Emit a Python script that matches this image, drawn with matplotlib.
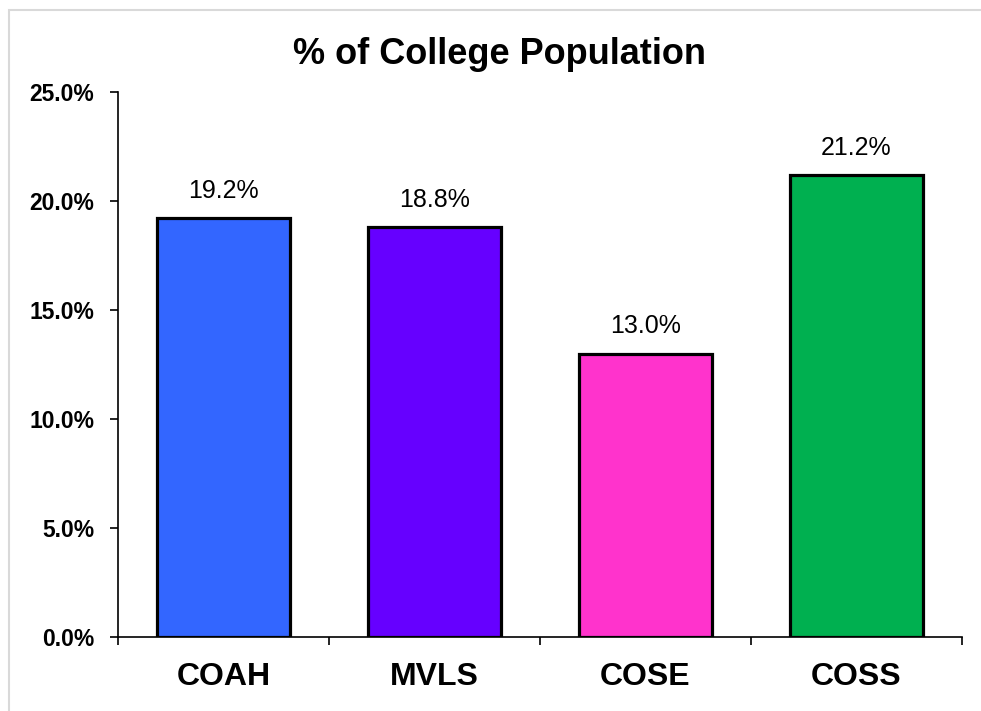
import matplotlib.pyplot as plt
from matplotlib.patches import Rectangle
from matplotlib.ticker import PercentFormatter, FixedLocator, NullFormatter

categories = ['COAH', 'MVLS', 'COSE', 'COSS']
values = [19.2, 18.8, 13.0, 21.2]
colors = ['#3366FF', '#6600FF', '#FF33CC', '#00B050']
yticks = [0, 5, 10, 15, 20, 25]

plt.rcParams['font.family'] = ['Liberation Sans', 'DejaVu Sans']

fig = plt.figure(figsize=(9.81, 7.11), dpi=100)
ax = fig.add_axes([118 / 981, 74 / 711, 844 / 981, 545 / 711])

# light gray chart-area border
fig.patches.append(Rectangle((9 / 981, -0.1), 1.0, (711 - 10) / 711 + 0.1,
                             transform=fig.transFigure, fill=False,
                             edgecolor='#d9d9d9', linewidth=1.5))

x = range(len(categories))
bars = ax.bar(x, values, width=0.63, color=colors, edgecolor='black',
              linewidth=2.3, zorder=3)

for b, v in zip(bars, values):
    ax.annotate(f'{v:.1f}%', (b.get_x() + b.get_width() / 2, v),
                xytext=(0, 11), textcoords='offset points',
                ha='center', va='bottom', fontsize=18)

ax.set_xlim(-0.5, len(categories) - 0.5)
ax.set_ylim(0, 25)
ax.set_yticks(yticks)
ax.yaxis.set_major_formatter(PercentFormatter(decimals=1))
for lbl in ax.get_yticklabels():
    lbl.set_fontweight('bold')
    lbl.set_fontsize(16.5)

ax.set_xticks(list(x))
ax.set_xticklabels(categories, fontsize=23, fontweight='bold')
ax.tick_params(axis='x', which='major', length=0, pad=18)
ax.xaxis.set_minor_locator(FixedLocator([i - 0.5 for i in range(len(categories) + 1)]))
ax.xaxis.set_minor_formatter(NullFormatter())
ax.tick_params(axis='x', which='minor', length=6, width=1.2, direction='out')
ax.tick_params(axis='y', length=6, width=1.2, direction='out', pad=11)

for s in ['top', 'right']:
    ax.spines[s].set_visible(False)
for s in ['left', 'bottom']:
    ax.spines[s].set_linewidth(1.2)

fig.text(500 / 981, (711 - 55) / 711, '% of College Population', ha='center',
         va='center', fontsize=26, fontweight='bold')

fig.savefig('out.png', dpi=100)
